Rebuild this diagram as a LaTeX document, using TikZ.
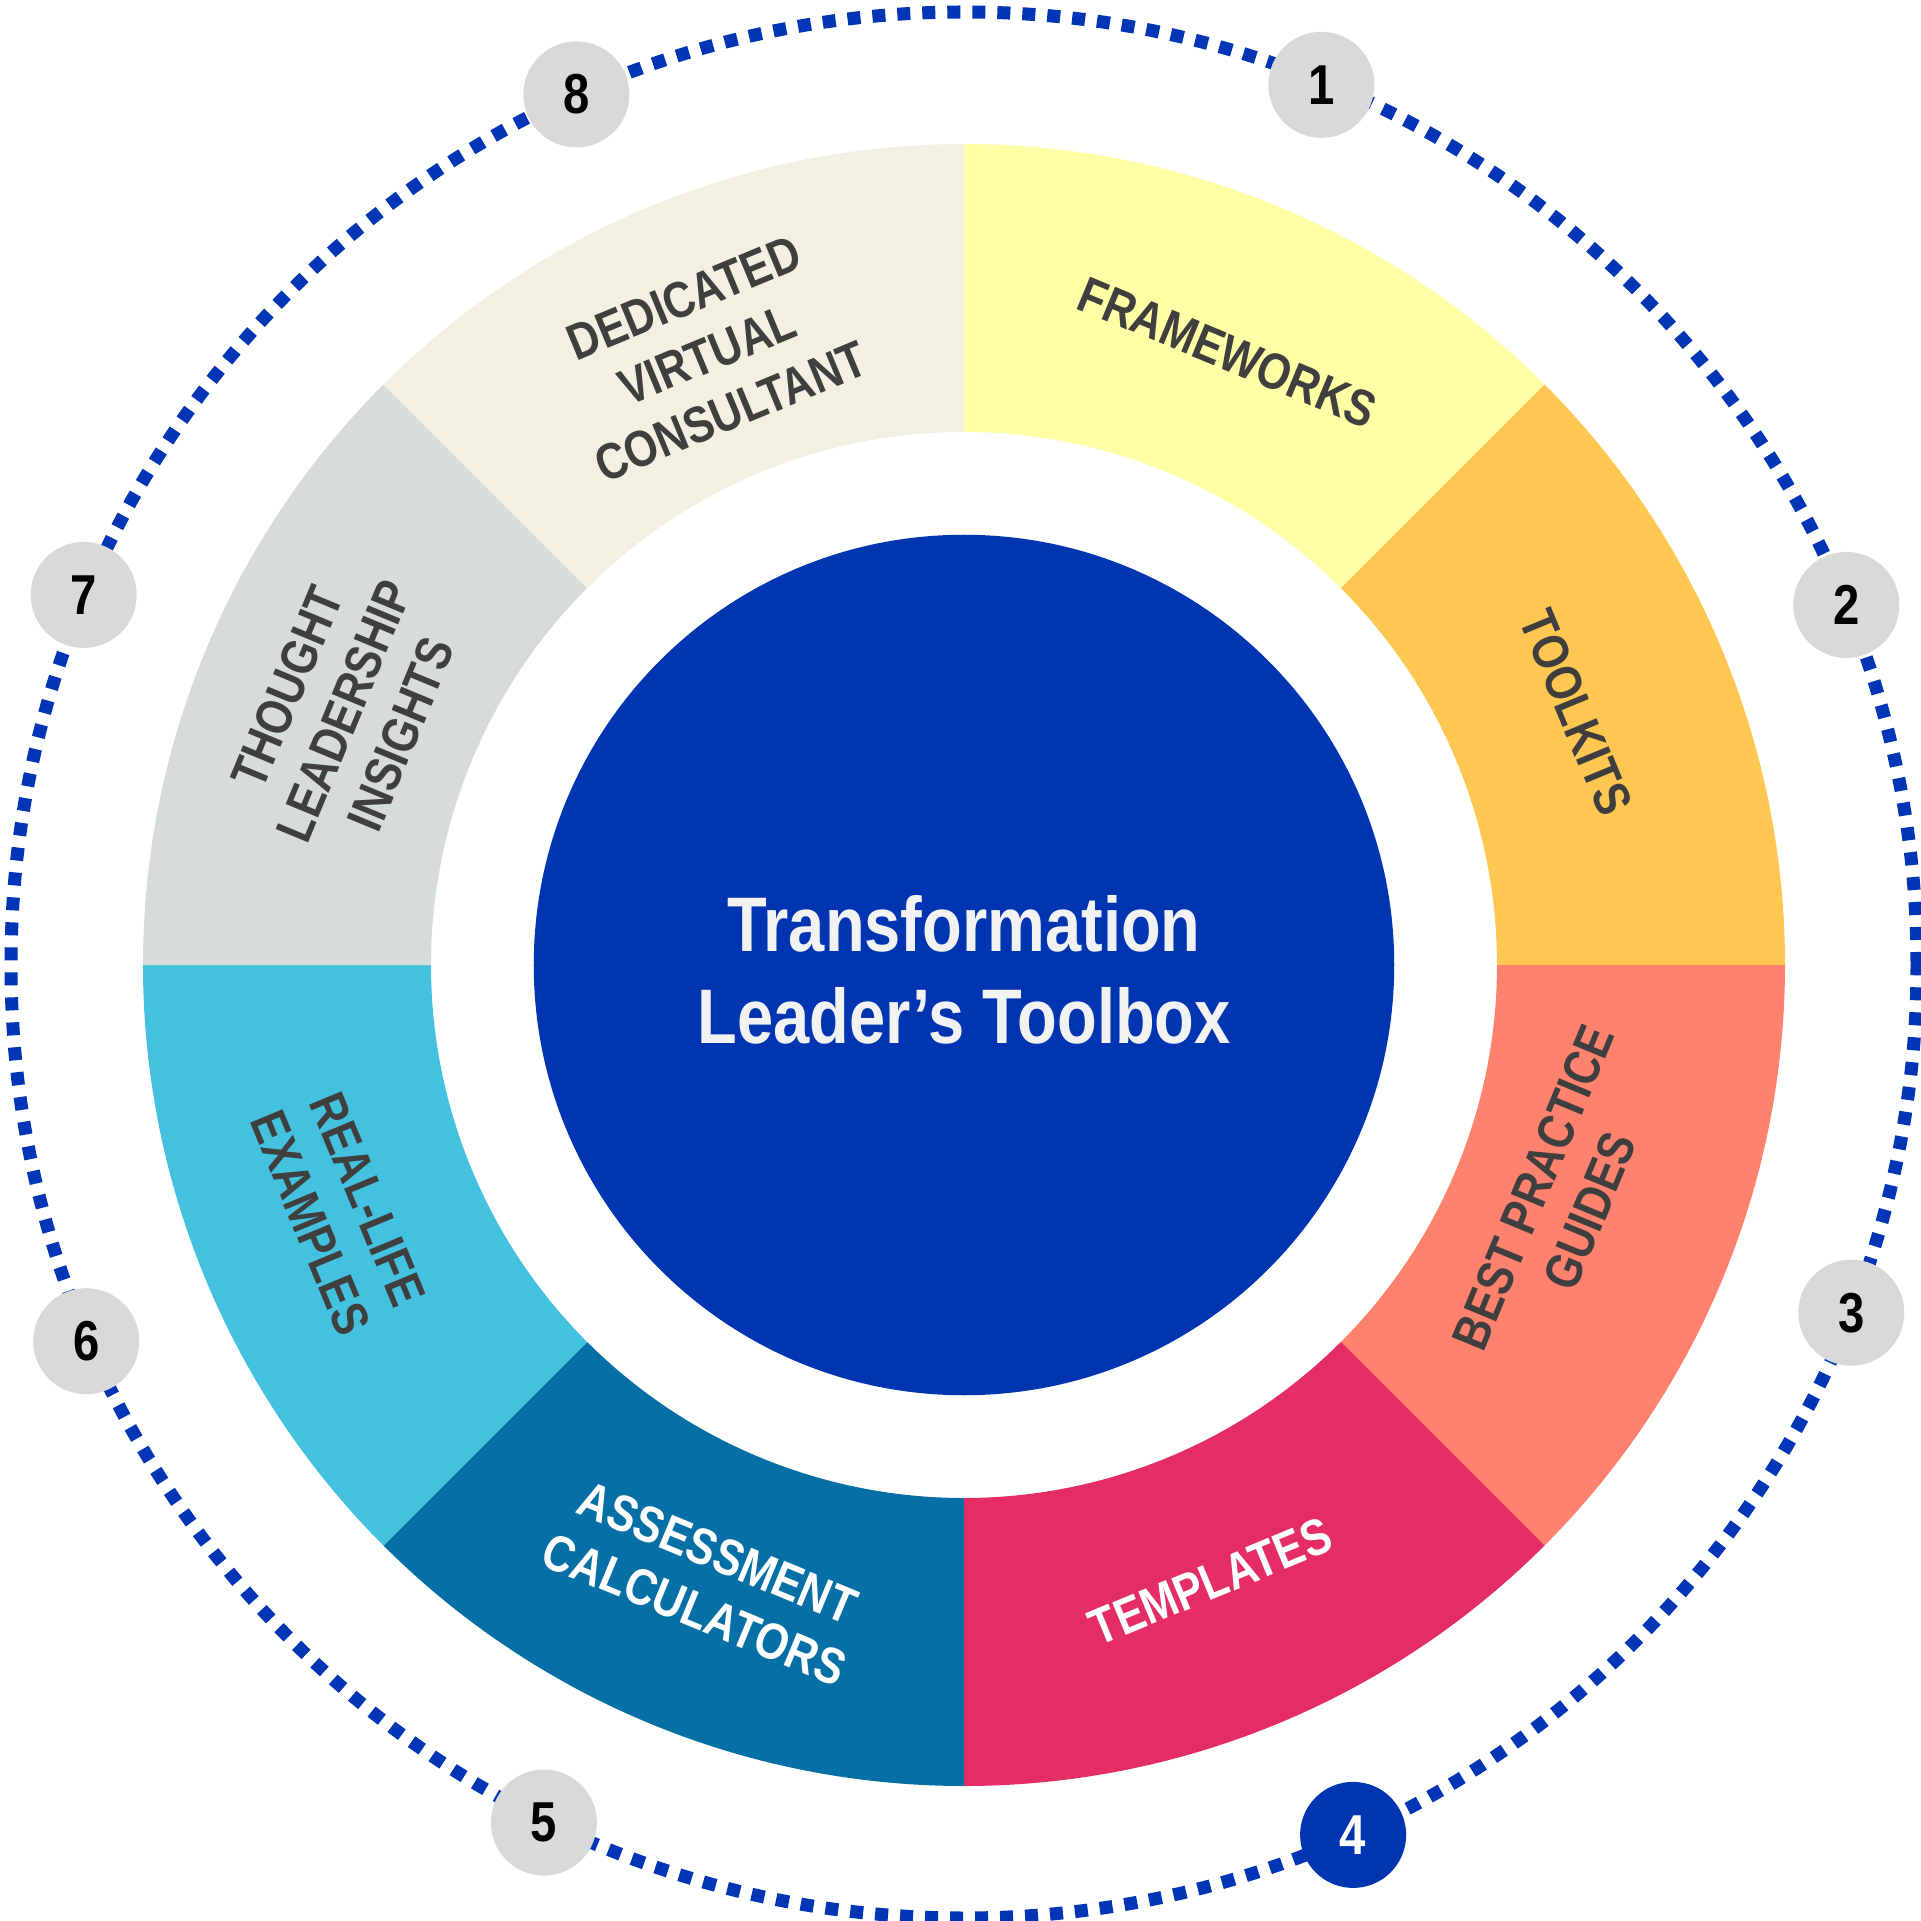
\documentclass[tikz,border=0pt]{standalone}
\usepackage{fontspec}
\setmainfont{Liberation Sans}[FakeStretch=0.84]
\definecolor{cFrame}{HTML}{FFFFA5}
\definecolor{cTool}{HTML}{FEC751}
\definecolor{cBest}{HTML}{FF826F}
\definecolor{cTemp}{HTML}{E52D65}
\definecolor{cAssess}{HTML}{0670A6}
\definecolor{cReal}{HTML}{45C1E0}
\definecolor{cThought}{HTML}{D6DBDB}
\definecolor{cDed}{HTML}{F2EFE3}
\definecolor{cHub}{HTML}{0035B2}
\definecolor{cDots}{HTML}{0036B5}
\definecolor{cBadge}{HTML}{D9D9D9}
\definecolor{cText}{HTML}{3F3F3F}
\definecolor{cTitle}{HTML}{F2F2F2}
\begin{document}
\begin{tikzpicture}[x=0.01cm,y=0.01cm,
  seglabel/.style={align=center,inner sep=0pt,text=cText,font=\bfseries\fontsize{14.5}{17.5}\selectfont},
  badge/.style={circle,fill=cBadge,minimum size=1.06cm,inner sep=0pt,font=\bfseries\fontsize{16}{18}\selectfont,text=black},
  badgeactive/.style={badge,fill=cHub,text=white},
  dotring/.style={draw=cDots,line width=0.13cm,dash pattern=on 0.13cm off 0.12cm}
]
\useasboundingbox (-964,-956) rectangle (956,965);
\def\ro{821}\def\ri{533}
\newcommand{\seg}[3]{\fill[#3] (#1:\ro) arc[start angle=#1,end angle=#2,radius=\ro] -- (#2:\ri) arc[start angle=#2,end angle=#1,radius=\ri] -- cycle;}
\seg{90}{45}{cFrame}
\seg{45}{0}{cTool}
\seg{0}{-45}{cBest}
\seg{-45}{-90}{cTemp}
\seg{-90}{-135}{cAssess}
\seg{-135}{-180}{cReal}
\seg{180}{135}{cThought}
\seg{135}{90}{cDed}
% hub
\node[circle,fill=cHub,minimum size=8.6cm,inner sep=0pt] (hub) at (0,0) {};
\node[text=cTitle,align=center,font=\bfseries\fontsize{22}{26}\selectfont] (title) at (0,-5) {Transformation\\Leader’s Toolbox};
% labels
\node[seglabel,rotate=-22.5] (frame) at (66.7:667) {FRAMEWORKS};
\node[seglabel,rotate=-67.5] (tool) at (22.4:662) {TOOLKITS};
\node[seglabel,rotate=67.5] (best) at (-21.4:642) {BEST PRACTICE\\GUIDES};
\node[seglabel,rotate=22.5,text=white] (temp) at (-68.2:664) {TEMPLATES};
\node[seglabel,rotate=-22.5,text=white] (assess) at (-112.7:668) {ASSESSMENT\\CALCULATORS};
\node[seglabel,rotate=-67.5] (real) at (-158.5:672) {REAL-LIFE\\EXAMPLES};
\node[seglabel,rotate=67.5] (thought) at (157.7:670) {THOUGHT\\LEADERSHIP\\INSIGHTS};
\node[seglabel,rotate=22.5] (ded) at (112.8:662) {DEDICATED\\VIRTUAL\\CONSULTANT};
% dotted ring
\draw[dotring] (0,0) circle[radius=953];
% badges
\node[badge] (b1) at (67.9:950) {1};
\node[badge] (b2) at (22.2:953) {2};
\node[badge] (b3) at (-21.4:953) {3};
\node[badgeactive] (b4) at (-65.9:953) {4};
\node[badge] (b5) at (-116.1:955) {5};
\node[badge] (b6) at (-156.8:955) {6};
\node[badge] (b7) at (157.2:955) {7};
\node[badge] (b8) at (114.0:953) {8};
\end{tikzpicture}
\end{document}
